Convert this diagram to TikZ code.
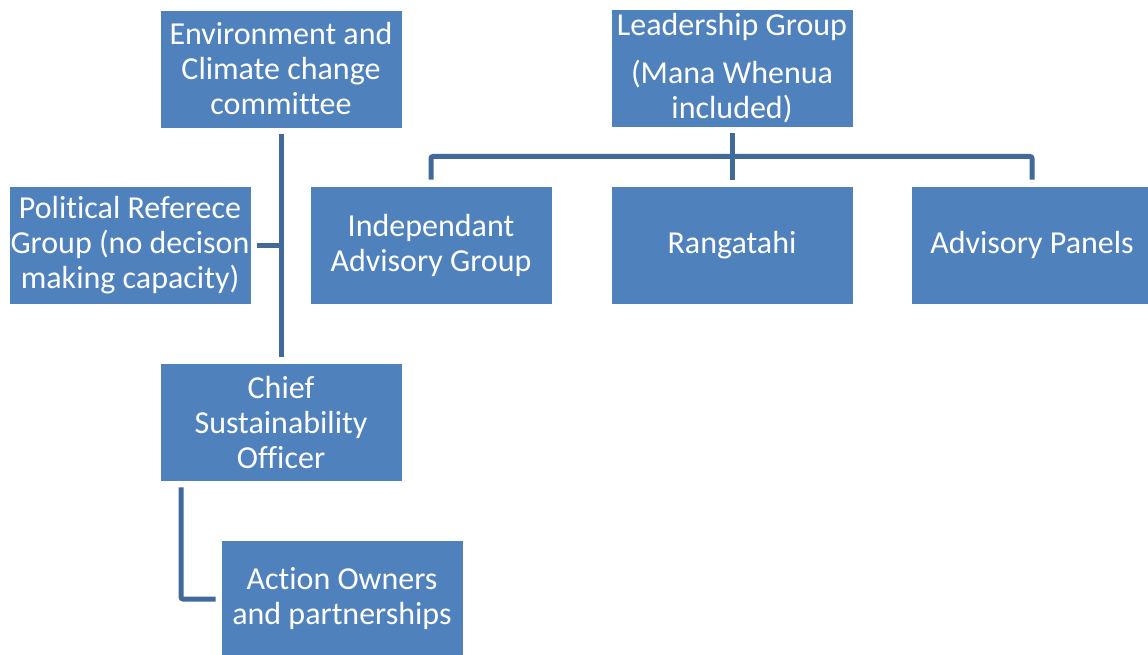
\documentclass[tikz,border=0pt]{standalone}
\usepackage{fontspec}
\setmainfont{Carlito}[Ligatures=NoCommon]
\usetikzlibrary{calc}
\definecolor{boxblue}{HTML}{4F81BD}
\definecolor{linkblue}{HTML}{41699A}
\begin{document}
\begin{tikzpicture}[x=1pt,y=-1pt,
  orgbox/.style={fill=boxblue,draw=white,line width=0.8pt,minimum width=242pt,minimum height=118pt,
    inner sep=0pt,text=white,align=center,font=\fontsize{32}{35}\selectfont},
  link/.style={draw=linkblue,line width=5pt}]
  % page frame
  \clip (0,0) rectangle (1148,655);
  \fill[white] (0,0) rectangle (1148,655);

  % governance column
  \node[orgbox] (env) at (281,69) {Environment and\\Climate change\\committee};
  \node[orgbox] (pol) at (130,245) {Political Referece\\Group (no decison\\making capacity)};
  \node[orgbox] (chief) at (281,422) {Chief\\Sustainability\\Officer};
  \node[orgbox] (action) at (342,599) {Action Owners\\and partnerships};

  % leadership branch
  \node[orgbox] (lead) at (732,68) {Leadership Group\\[13pt](Mana Whenua\\included)};
  \node[orgbox] (indep) at (431,245) {Independant\\Advisory Group};
  \node[orgbox] (rang) at (732,245) {Rangatahi};
  \node[orgbox] (adv) at (1032,245) {Advisory Panels};

  % connectors of the governance column
  \draw[link] ([yshift=-6pt]env.south) -- ([yshift=6pt]chief.north);
  \draw[link] ([xshift=6pt]pol.east) -- (pol.east -| env.south);
  \draw[link,rounded corners=2pt] ([xshift=-100pt,yshift=-6pt]chief.south) |- ([xshift=-5pt]action.west);

  % connectors of the leadership branch
  \coordinate (bar) at ($(lead.south)!0.5!(rang.north)$);
  \draw[link] ([yshift=-6pt]lead.south) -- ([yshift=6pt]rang.north);
  \draw[link,rounded corners=2pt] ([yshift=6pt]indep.north) |- (bar) -| ([yshift=6pt]adv.north);
\end{tikzpicture}
\end{document}
